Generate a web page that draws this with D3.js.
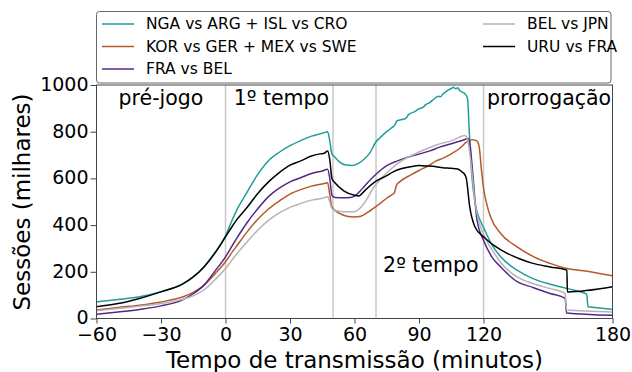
<!DOCTYPE html>
<html>
<head>
<meta charset="utf-8">
<script src="https://cdn.jsdelivr.net/npm/d3@7"></script>
<style>
  body { margin: 0; background: #fff; }
  svg { display: block; font-family: "DejaVu Sans", sans-serif; }
</style>
</head>
<body>
<svg id="chart" width="632" height="372"></svg>
<script>
// dados: [minuto, sessões (milhares)]
var ngaArgIslCro = [
  [-60,71],[-50,81],[-40,93],[-30,115],[-20,148],[-15,178],[-10,222],[-5,282],[0,353],[3,420],[5,460],
  [10,540],[15,617],[20,676],[25,712],[30,740],[35,762],[40,781],[45,793],[47.5,800],[48.5,760],[49.5,705],
  [51,690],[53,671],[56,657],[59,655],[62,665],[64,679],[67,707],[70,757],[72,775],[74,793],[77,815],
  [79,832],[79.5,845],[82,852],[84,858],[85,872],[88,886],[90,898],[92,905],[93,915],[95,925],[97,940],
  [99,952],[100,950],[101,960],[103,975],[105,985],[106,990],[107,984],[108,988],[109,975],[111,965],
  [112,955],[112.6,940],[113.4,800],[114.5,620],[116,500],[118,430],[120,390],[124,314],[128,264],
  [135.6,207],[143,171],[151,147],[159,128],[168,104],[168.6,50],[175,44],[180,39]
];
var korGerMexSwe = [
  [-60,36],[-50,47],[-40,57],[-30,71],[-20,92],[-15,112],[-10,142],[-5,190],[0,243],[3,283],[5,308],
  [10,370],[15,425],[20,469],[25,503],[30,533],[35,552],[40,567],[45,576],[47.5,581],[48.5,530],[49.5,478],
  [53,450],[57,437],[60,435],[63,438],[66.5,457],[70.9,486],[75,515],[77.4,530],[78.5,538],[79.5,570],
  [81,585],[86,614],[90,634],[94,652],[98,675],[101,686],[105,705],[109,729],[112,755],[113.6,764],
  [115,766],[117,760],[118,735],[119,640],[120,560],[121.5,490],[123.3,435],[128,364],[135.6,307],
  [143.4,264],[151,236],[158.8,214],[166.5,205],[180,183]
];
var fraBel = [
  [-60,18],[-50,28],[-40,39],[-30,54],[-20,80],[-15,106],[-10,143],[-5,202],[0,264],[3,310],[5,340],
  [10,410],[15,470],[20,522],[25,558],[30,585],[35,603],[40,621],[45,632],[47.5,639],[48.5,600],[49.5,528],
  [51,518],[55,517],[58,518],[60,524],[62,540],[65,571],[70,618],[75,655],[80,675],[85,692],[90,704],
  [95,718],[100,735],[105,748],[110,762],[113,771],[113.8,740],[114.6,664],[117,421],[120,335],[124,262],
  [128,221],[135.6,158],[143,133],[151,107],[158,86],[158.6,24],[180,14]
];
var belJpn = [
  [-60,33],[-50,43],[-40,53],[-30,64],[-20,82],[-15,97],[-10,122],[-5,165],[0,214],[3,250],[5,274],
  [10,328],[15,378],[20,420],[25,452],[30,476],[35,493],[40,507],[45,515],[47.5,521],[48.5,500],[49.5,471],
  [52,460],[55,457],[60,457],[63,476],[65.5,507],[68.6,557],[71.8,593],[76.4,636],[82.6,679],[90.3,714],
  [98,743],[105.9,764],[111.3,784],[112.5,770],[114,680],[116,500],[118,410],[120,362],[124.6,285],
  [128,240],[135.6,178],[143,150],[151,128],[158,107],[158.6,36],[180,28]
];
var uruFra = [
  [-60,50],[-50,64],[-40,86],[-30,114],[-20,147],[-15,178],[-10,221],[-5,279],[0,350],[3,393],[5,420],
  [10,475],[15,535],[20,585],[25,625],[30,657],[35,675],[40,696],[44,705],[46,708],[47.5,717],[48.5,680],
  [49.5,600],[51,580],[55,547],[60,528],[62,525],[65,550],[70,588],[75,612],[78,628],[82,642],[86,650],
  [90,655],[94,653],[98,650],[101,646],[105,643],[108,640],[110,628],[111,620],[112,600],[113.6,478],
  [116,393],[120,350],[125,312],[131,279],[137,255],[143,236],[151,221],[158.8,207],[159,114],[180,136]
];

var nomes = ["NGA vs ARG + ISL vs CRO","KOR vs GER + MEX vs SWE","FRA vs BEL","BEL vs JPN","URU vs FRA"];
var cores = ["#1f9e99","#b5582a","#542788","#b4b4b4","#000000"];
var series = [ngaArgIslCro, korGerMexSwe, fraBel, belJpn, uruFra];

var xTicks = [-60,-30,0,30,60,90,120,180];
var yTicks = [0,200,400,600,800,1000];
var divisoes = [0,50,70,120];
var periodos = [
  {nome:"pré-jogo", t:-30, v:915},
  {nome:"1º tempo", t:26, v:915},
  {nome:"2º tempo", t:95.5, v:200},
  {nome:"prorrogação", t:150.5, v:915}
];

var svg = d3.select("#chart");
var x = d3.scaleLinear().domain([-60,180]).range([96.5,612.5]);
var y = d3.scaleLinear().domain([0,1000]).range([318.5,85]);

// linhas verticais de separação
svg.selectAll(".div").data(divisoes).enter().append("line")
  .attr("x1",d=>x(d)).attr("x2",d=>x(d))
  .attr("y1",y(1000)).attr("y2",y(0))
  .attr("stroke","#c8c8c8").attr("stroke-width",1.5);

var line = d3.line()
  .x(d=>x(d[0])).y(d=>y(d[1]))
  .curve(d3.curveMonotoneX);

svg.selectAll(".serie").data(series).enter().append("path")
  .attr("d",line)
  .attr("fill","none")
  .attr("stroke",(d,i)=>cores[i])
  .attr("stroke-width",1.5)
  .attr("stroke-linejoin","round");

// moldura
svg.append("rect")
  .attr("x",x(-60)).attr("y",y(1000))
  .attr("width",x(180)-x(-60)).attr("height",y(0)-y(1000))
  .attr("fill","none").attr("stroke","#444").attr("stroke-width",1);

var fmt = d=> String(d).replace("-","\u2212");

var gx = svg.append("g").attr("transform","translate(0,"+y(0)+")")
  .call(d3.axisBottom(x).tickValues(xTicks).tickFormat(fmt).tickSize(5).tickPadding(4));
var gy = svg.append("g").attr("transform","translate("+x(-60)+",0)")
  .call(d3.axisLeft(y).tickValues(yTicks).tickFormat(fmt).tickSize(6).tickPadding(2));
[gx,gy].forEach(g=>{
  g.select(".domain").remove();
  g.selectAll("line").attr("stroke","#444");
  g.selectAll("text").attr("font-size","19px").attr("fill","#000")
    .attr("font-family","DejaVu Sans");
});
gy.selectAll("text").attr("dy","0.28em");

// rótulos dos períodos
svg.selectAll(".periodo").data(periodos).enter().append("text")
  .attr("x",d=>x(d.t)).attr("y",d=>y(d.v))
  .attr("text-anchor","middle")
  .attr("font-size","20.5px")
  .text(d=>d.nome);

// títulos dos eixos
svg.append("text")
  .attr("x",354.5).attr("y",368)
  .attr("text-anchor","middle").attr("font-size","23px")
  .text("Tempo de transmissão (minutos)");
svg.append("text")
  .attr("transform","translate(30,202) rotate(-90)")
  .attr("text-anchor","middle").attr("font-size","23px")
  .text("Sessões (milhares)");

// legenda
var leg = svg.append("g");
leg.append("rect")
  .attr("x",96.5).attr("y",11.5).attr("width",514.5).attr("height",71.5)
  .attr("rx",3).attr("fill","#fff").attr("stroke","#666").attr("stroke-width",1);
var legPos = [[0,0],[0,1],[0,2],[1,0],[1,1]];
var colX = [[102,134,146],[483,515,527]];
var rowY = [24,46.5,69];
nomes.forEach((n,i)=>{
  var c = colX[legPos[i][0]], r = rowY[legPos[i][1]];
  leg.append("line").attr("x1",c[0]).attr("x2",c[1]).attr("y1",r).attr("y2",r)
    .attr("stroke",cores[i]).attr("stroke-width",1.5);
  leg.append("text").attr("x",c[2]).attr("y",r).attr("dy","0.35em")
    .attr("font-size","15.5px").text(n);
});
</script>
</body>
</html>
